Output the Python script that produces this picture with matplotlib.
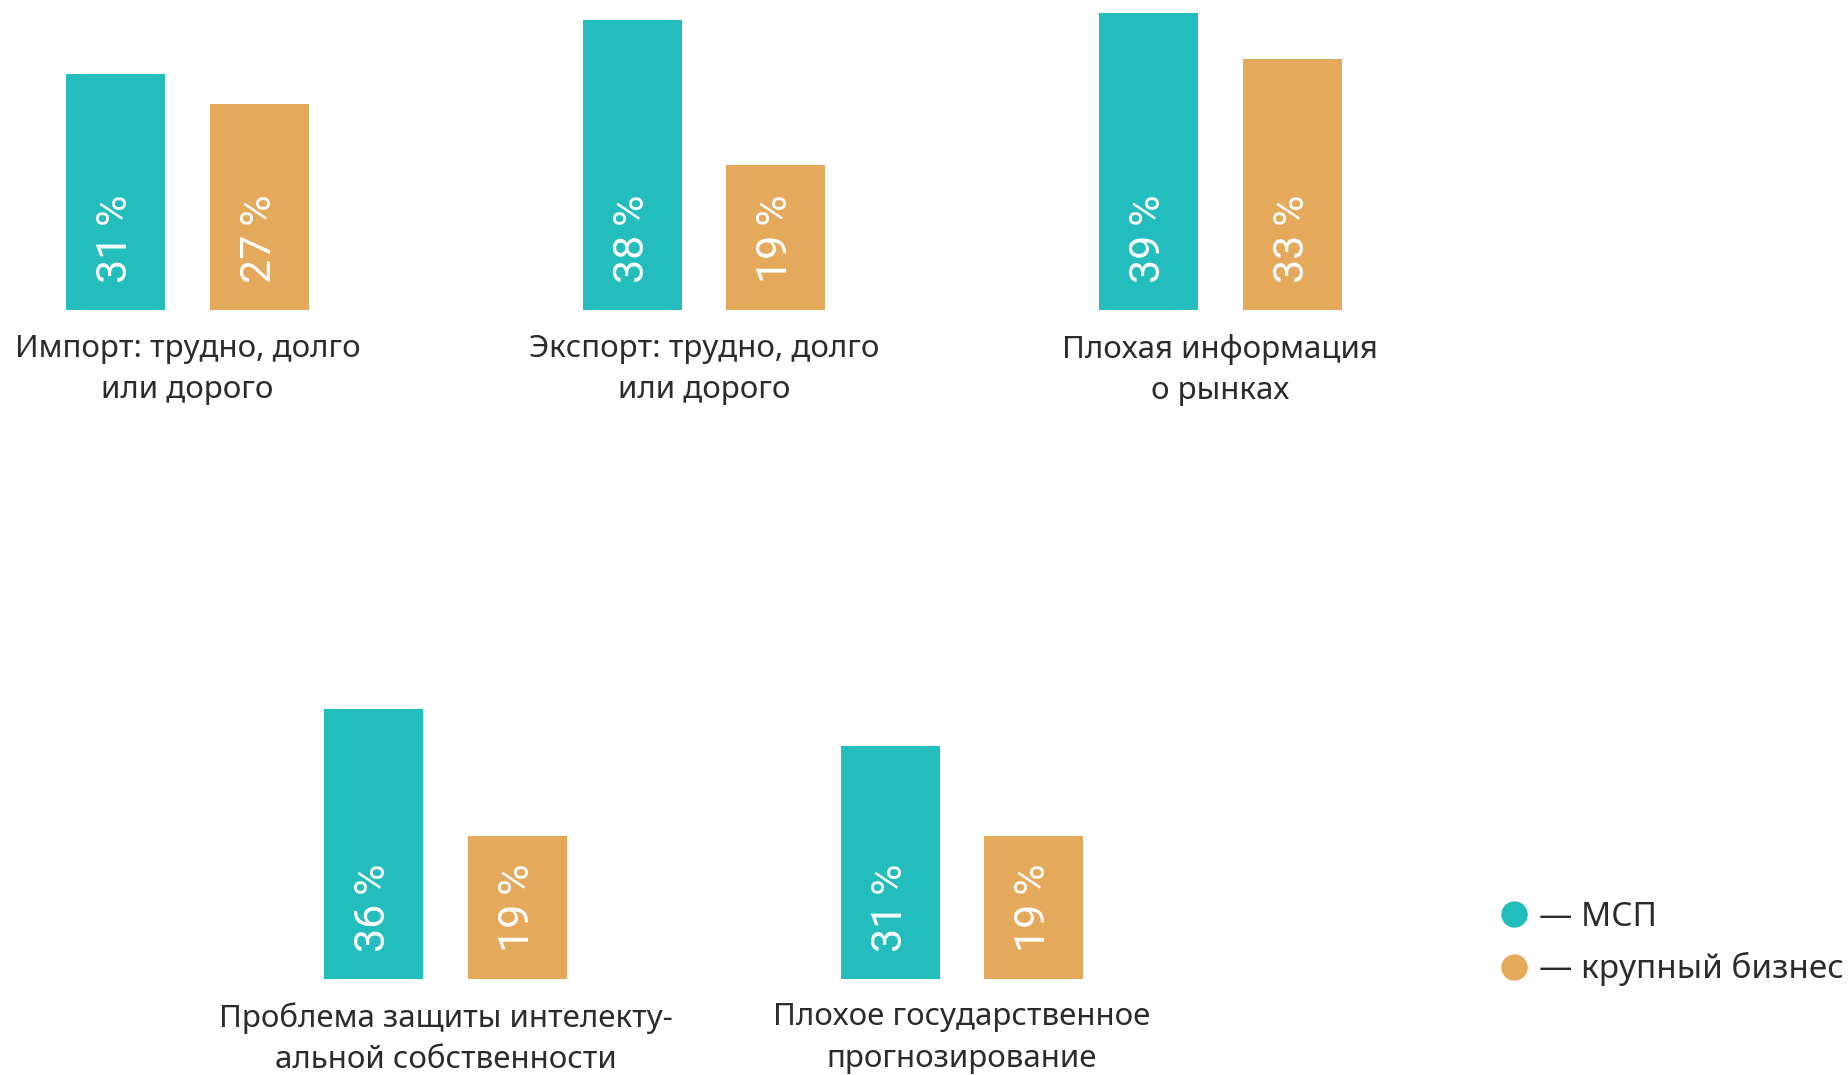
import matplotlib
matplotlib.use('Agg')
import matplotlib.pyplot as plt
from matplotlib import font_manager
from matplotlib.lines import Line2D

# data
top_categories = ['Импорт: трудно, долго\nили дорого',
                  'Экспорт: трудно, долго\nили дорого',
                  'Плохая информация\nо рынках']
top_msp = [31, 38, 39]
top_big = [27, 19, 33]

bottom_categories = ['Проблема защиты интелекту-\nальной собственности',
                     'Плохое государственное\nпрогнозирование']
bottom_msp = [36, 31]
bottom_big = [19, 19]

series_names = ['— МСП', '— крупный бизнес']

teal = '#22bdbc'
orange = '#e4a95b'
text_color = '#2b2b2b'

names = {f.name for f in font_manager.fontManager.ttflist}
pct_font = 'Roboto' if 'Roboto' in names else 'DejaVu Sans'
label_font = 'Noto Sans' if 'Noto Sans' in names else 'DejaVu Sans'

W, H = 1849, 1075
fig = plt.figure(figsize=(W / 100, H / 100), dpi=100)

unit = 516.4          # px per group step
x0 = 187.5            # px of first group center
xlim = (-x0 / unit, (W - x0) / unit)
offset = 0.139
width = 0.192


def draw_row(baseline_px, top_px, px_per_pct, positions, msp, big, cats):
    height_px = baseline_px - top_px
    ax = fig.add_axes([0, (H - baseline_px) / H, 1, height_px / H])
    ax.set_xlim(*xlim)
    ax.set_ylim(0, height_px / px_per_pct)
    ax.axis('off')
    for x, m, b, c in zip(positions, msp, big, cats):
        ax.bar(x - offset, m, width=width, color=teal, align='center')
        ax.bar(x + offset, b, width=width, color=orange, align='center')
        for xx, v in ((x - offset, m), (x + offset, b)):
            ax.text(xx, 27 / px_per_pct, f'{v}\u2009%', rotation=90,
                    ha='center', va='bottom', color='white', fontsize=31,
                    family=[pct_font, 'DejaVu Sans'])
        ax.annotate(c, xy=(x, 0), xycoords='data', xytext=(0, -17),
                    textcoords='offset points', ha='center', va='top',
                    fontsize=22.5, color=text_color, family=label_font,
                    linespacing=1.5, annotation_clip=False)
    return ax


draw_row(310, 0, 7.62, [0, 1, 2], top_msp, top_big, top_categories)
draw_row(978.6, 660, 7.5, [0.5, 1.5], bottom_msp, bottom_big, bottom_categories)

handles = [Line2D([], [], linestyle='none', marker='o', markersize=19,
                  markerfacecolor=teal, markeredgecolor='none'),
           Line2D([], [], linestyle='none', marker='o', markersize=19,
                  markerfacecolor=orange, markeredgecolor='none')]
leg = fig.legend(handles, series_names, loc='upper left',
                 bbox_to_anchor=(0.810, 0.162), frameon=False,
                 handlelength=1.0, handletextpad=0.25, borderpad=0,
                 borderaxespad=0, labelspacing=0.55,
                 prop={'family': label_font, 'size': 24})
for t in leg.get_texts():
    t.set_color(text_color)

fig.savefig('out.png', dpi=100)
